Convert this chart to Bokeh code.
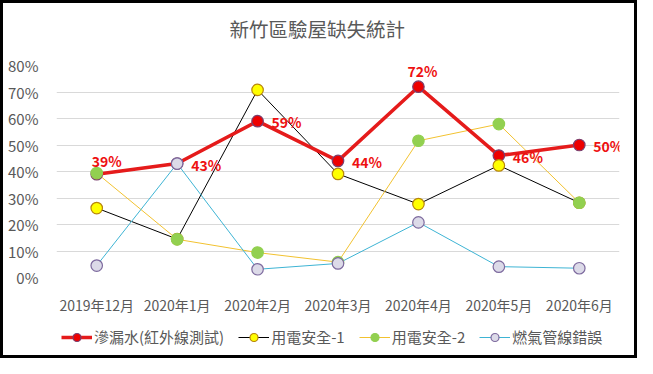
from bokeh.plotting import figure
from bokeh.layouts import column
from bokeh.models import (ColumnDataSource, FactorRange, Legend, LegendItem, NumeralTickFormatter,
                          FixedTicker, Range1d, Title)
from bokeh.core.properties import value
from bokeh.embed import file_html
from bokeh.resources import INLINE

months = ["2019年12月", "2020年1月", "2020年2月", "2020年3月", "2020年4月", "2020年5月", "2020年6月"]
leak = [0.39, 0.43, 0.59, 0.44, 0.72, 0.46, 0.50]
elec1 = [0.262, 0.145, 0.708, 0.391, 0.277, 0.423, 0.282]
elec2 = [0.394, 0.144, 0.094, 0.058, 0.516, 0.579, 0.282]
gas = [0.045, 0.43, 0.031, 0.053, 0.208, 0.041, 0.035]
series_names = ["滲漏水(紅外線測試)", "用電安全-1", "用電安全-2", "燃氣管線錯誤"]
chart_title = "新竹區驗屋缺失統計"
y_ticks = [0, 0.1, 0.2, 0.3, 0.4, 0.5, 0.6, 0.7, 0.8]
leak_label_side = ["above", "right", "right", "right", "above", "right", "right"]

FONT = "Noto Sans CJK TC"
GRAY = "#595959"
RED_LINE = "#E51B1B"
STYLES = {
    "leak": dict(line_color=RED_LINE, line_width=3.5, fill="#EE0000", edge="#7A3F6E"),
    "e1": dict(line_color="black", line_width=1, fill="#FFFF00", edge="#B8860B"),
    "e2": dict(line_color="#F2C230", line_width=1, fill="#92D050", edge="#92D050"),
    "gas": dict(line_color="#3EB4D4", line_width=1, fill="#DCDAE8", edge="#7D6A9E"),
}
KEYS = ["leak", "e1", "e2", "gas"]

p = figure(width=631, height=322, x_range=FactorRange(factors=months, range_padding=0),
           y_range=Range1d(0, 0.8), output_backend="svg", toolbar_location=None, title=None,
           min_border_left=53, min_border_right=15, min_border_top=0, min_border_bottom=48)
p.outline_line_color = None
p.xgrid.grid_line_color = None
p.ygrid.grid_line_color = "#D9D9D9"
p.ygrid.grid_line_width = 1

# spacer title (nearest the frame), then the real title above it
p.add_layout(Title(text=" ", text_font_size="1px", standoff=7), "above")
p.add_layout(Title(text=chart_title, align="left", offset=173, vertical_align="top",
                   text_font=FONT, text_font_size="19.5px", text_font_style="normal",
                   text_color=GRAY, standoff=21), "above")

for ax in (p.xaxis[0], p.yaxis[0]):
    ax.axis_line_color = None
    ax.major_tick_line_color = None
    ax.minor_tick_line_color = None
    ax.major_label_text_font = FONT
    ax.major_label_text_color = GRAY
p.yaxis.major_label_text_font_size = "15px"
p.xaxis.major_label_text_font_size = "14px"
p.yaxis.ticker = FixedTicker(ticks=y_ticks)
p.yaxis.formatter = NumeralTickFormatter(format="0%")
p.yaxis.major_label_standoff = 12
p.xaxis.major_label_standoff = 11

src = ColumnDataSource(dict(m=months, leak=leak, e1=elec1, e2=elec2, gas=gas))

# thin lines first, the thick red line over them, then markers in series order
for k in ["e1", "e2", "gas", "leak"]:
    s = STYLES[k]
    p.line("m", k, source=src, line_color=s["line_color"], line_width=s["line_width"])
MS = 11.5
for k in KEYS:
    s = STYLES[k]
    p.scatter("m", k, source=src, size=MS, fill_color=s["fill"], line_color=s["edge"], line_width=1.2)

xo = [10 if s == "above" else 14 for s in leak_label_side]
yo = [-13 if s == "above" else 1 for s in leak_label_side]
yo = [yo[i] - (3 if (leak_label_side[i] == "above" and leak[i] > 0.6) else 0) for i in range(len(yo))]
xo = [xo[i] - (6 if (leak_label_side[i] == "above" and leak[i] > 0.6) else 0) for i in range(len(xo))]
al = ["center" if s == "above" else "left" for s in leak_label_side]
lab = ColumnDataSource(dict(m=months, v=leak, t=[f"{round(v*100)}%" for v in leak], xo=xo, yo=yo, al=al))
p.text("m", "v", text="t", source=lab, x_offset="xo", y_offset="yo", text_align="al",
       text_baseline="middle", text_font=value(FONT), text_font_size="14px",
       text_font_style="bold", text_color="#EE1111")

# legend strip: same series, out of its visible y range, only the legend shows
lg = figure(width=631, height=30, x_range=p.x_range, y_range=Range1d(10, 11),
            output_backend="svg", toolbar_location=None, min_border=0,
            x_axis_type=None, y_axis_type=None)
lg.grid.visible = False
lg.outline_line_color = None
items = []
for k, name in zip(KEYS, series_names):
    s = STYLES[k]
    r1 = lg.line("m", k, source=src, line_color=s["line_color"], line_width=s["line_width"])
    r2 = lg.scatter("m", k, source=src, size=8, fill_color=s["fill"], line_color=s["edge"], line_width=1.2)
    items.append(LegendItem(label=name, renderers=[r1, r2]))
legend = Legend(items=items, orientation="horizontal", location=(5, 8))
legend.label_text_font = FONT
legend.label_text_font_size = "15px"
legend.label_text_color = GRAY
legend.glyph_width = 31
legend.glyph_height = 20
legend.label_standoff = 2
legend.spacing = 14
legend.padding = 0
legend.margin = 0
legend.border_line_color = None
legend.background_fill_alpha = 0
lg.add_layout(legend, "center")

layout = column(p, lg, spacing=0, styles={"border": "3px solid black"})
open("out.html", "w").write(file_html(layout, INLINE))
